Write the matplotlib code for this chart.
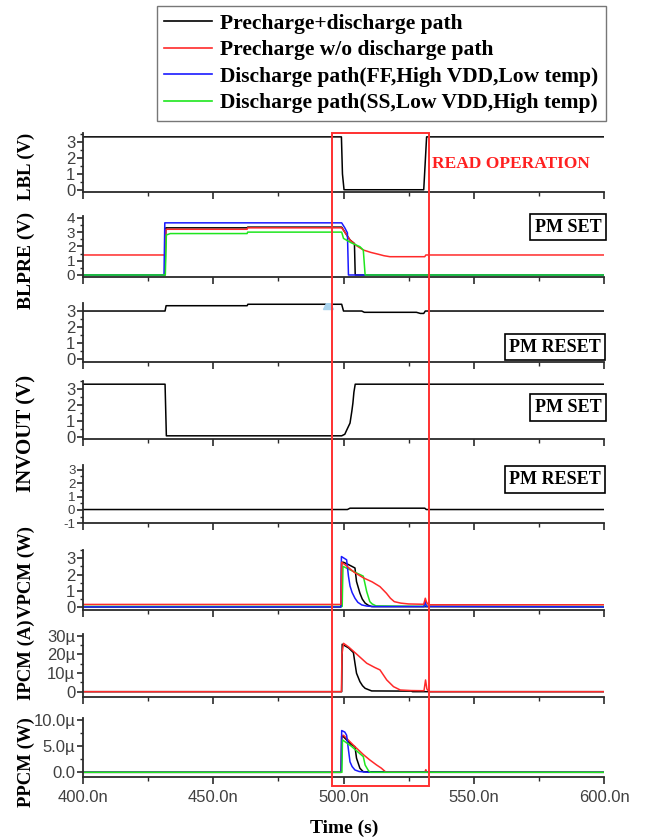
import matplotlib
matplotlib.use("Agg")
import matplotlib.pyplot as plt
from matplotlib.ticker import MultipleLocator, FuncFormatter
from matplotlib.patches import Rectangle
from matplotlib.lines import Line2D

# ---- data (time in ns) ----
series_names = ["Precharge+discharge path",
                "Precharge w/o discharge path",
                "Discharge path(FF,High VDD,Low temp)",
                "Discharge path(SS,Low VDD,High temp)"]
series_colors = ["black", "#ff2a2a", "#1a1aff", "#1ee61e"]

lbl_t = [400, 499.2, 499.6, 500.2, 530.8, 531.3, 531.9, 600]
lbl_v = [3.3, 3.3, 1.0, 0.02, 0.02, 1.5, 3.3, 3.3]

# BLPRE, PM SET case
blpre_set_black_t = [400, 431.5, 431.8, 463, 463.2, 499.3, 500.5, 502.5, 504.2, 504.5, 600]
blpre_set_black_v = [0, 0, 3.3, 3.3, 3.35, 3.35, 3.0, 2.45, 2.2, 0, 0]
blpre_set_red_t = [400, 431.5, 431.8, 463, 463.2, 499.3, 500.5, 502.5, 505, 507.6, 510.5, 513.4, 515.5, 517.8, 531.2, 531.6, 600]
blpre_set_red_v = [1.4, 1.4, 3.2, 3.2, 3.3, 3.3, 3.0, 2.45, 2.05, 1.75, 1.58, 1.45, 1.35, 1.28, 1.28, 1.4, 1.4]
blpre_set_blue_t = [400, 431.1, 431.4, 499.3, 500.5, 501.5, 501.9, 600]
blpre_set_blue_v = [0, 0, 3.65, 3.65, 3.3, 2.95, 0, 0]
blpre_set_green_t = [400, 431.6, 432.0, 433.5, 463, 463.2, 499.3, 500.0, 503, 506.3, 507.6, 508.3, 600]
blpre_set_green_v = [0, 0, 2.8, 2.9, 2.9, 3.0, 3.0, 2.56, 2.25, 1.98, 1.75, 0, 0]

# BLPRE, PM RESET case
blpre_reset_t = [400, 431.5, 431.9, 463, 463.3, 499.3, 500.0, 507, 508, 528, 529.5, 530.8, 531.4, 600]
blpre_reset_v = [3.0, 3.0, 3.33, 3.33, 3.42, 3.42, 3.0, 3.0, 2.92, 2.92, 2.85, 2.85, 3.0, 3.0]
cursor_t = [494]
cursor_v = [3.42]

# INVOUT, PM SET case
invout_set_t = [400, 431.5, 432.0, 499.3, 500.5, 501.2, 502.5, 503.2, 503.6, 504.0, 504.5, 600]
invout_set_v = [3.3, 3.3, 0.05, 0.05, 0.15, 0.4, 0.85, 1.6, 2.1, 2.8, 3.3, 3.3]

# INVOUT, PM RESET case
invout_reset_t = [400, 501.5, 502.5, 531.2, 531.8, 600]
invout_reset_v = [0.03, 0.03, 0.13, 0.13, 0.03, 0.03]

# VPCM (V)
vpcm_black_t = [400, 499.0, 499.3, 500, 502, 504.4, 505, 506.3, 507.2, 508.3, 509.5, 510.8, 600]
vpcm_black_v = [0.02, 0.02, 2.75, 2.75, 2.6, 2.4, 1.57, 0.86, 0.5, 0.25, 0.12, 0.04, 0.02]
vpcm_red_t = [400, 499.0, 499.3, 501, 504, 507.6, 511, 514, 516.5, 518, 519.5, 522, 525, 530.8, 531.4, 531.9, 532.6, 600]
vpcm_red_v = [0.17, 0.17, 2.75, 2.55, 2.15, 1.8, 1.55, 1.26, 0.85, 0.55, 0.34, 0.25, 0.2, 0.18, 0.55, 0.3, 0.15, 0.15]
vpcm_blue_t = [400, 499.0, 499.2, 501.2, 501.9, 502.5, 503.3, 504.4, 505.5, 507, 509, 511.5, 530.9, 531.3, 531.8, 600]
vpcm_blue_v = [0.02, 0.02, 3.1, 2.9, 1.9, 1.3, 0.9, 0.55, 0.3, 0.14, 0.07, 0.04, 0.04, 0.4, 0.05, 0.02]
vpcm_green_t = [400, 499.5, 499.8, 503, 507.6, 508.3, 508.9, 510.1, 511, 512.5, 530.9, 531.3, 531.8, 600]
vpcm_green_v = [0.05, 0.05, 2.5, 2.25, 1.9, 1.4, 0.96, 0.34, 0.2, 0.08, 0.05, 0.3, 0.06, 0.05]

# IPCM (uA)
ipcm_black_t = [400, 499.3, 499.5, 502, 503.8, 504.4, 505, 506.3, 507.3, 508.3, 510.8, 526, 526.5, 600]
ipcm_black_v = [0, 0, 25.5, 23.5, 21.0, 15.3, 9.9, 5.4, 3.2, 1.8, 0.4, 0.3, 0, 0]
ipcm_red_t = [400, 499.2, 499.4, 500, 502, 504.4, 508.9, 512, 514, 516.6, 519.2, 521.8, 526, 530.9, 531.5, 532.0, 532.8, 600]
ipcm_red_v = [0, 0, 20, 26, 24, 21, 15.3, 13, 11.7, 6.3, 2.7, 0.9, 0.6, 0.5, 6.3, 1.5, 0, 0]

# PPCM (uW)
ppcm_black_t = [400, 499.1, 499.3, 500, 503, 504.4, 505, 506.3, 507.6, 600]
ppcm_black_v = [0, 0, 6.9, 6.8, 5.3, 4.9, 2.7, 0.77, 0.1, 0]
ppcm_red_t = [400, 499.1, 499.3, 500, 504, 507.6, 510, 512.7, 514.5, 516.1, 531.2, 531.6, 532.0, 600]
ppcm_red_v = [0, 0, 7.0, 7.1, 5.1, 3.4, 2.4, 1.4, 0.8, 0.1, 0, 0.5, 0, 0]
ppcm_blue_t = [400, 499.1, 499.3, 500.5, 501.2, 501.9, 502.5, 503.3, 504.4, 506, 509.5, 600]
ppcm_blue_v = [0, 0, 8.0, 7.7, 7.1, 4.3, 2.0, 1.1, 0.44, 0.15, 0, 0]
ppcm_green_t = [400, 499.4, 499.6, 503, 507.6, 508.3, 509.0, 509.6, 510.3, 600]
ppcm_green_v = [0, 0, 6.2, 5.0, 3.0, 1.4, 0.8, 0.3, 0, 0]

x_ticks = [400, 450, 500, 550, 600]
read_window = (495.7, 532.9)

# ---- layout (pixel rows of each panel: top, bottom) ----
W, H = 645, 839
px_left, px_right = 83, 604
rows = [(133, 192), (215.7, 276.7), (303.3, 361.7), (380.7, 439),
        (465, 523.3), (550, 610), (634, 696.7), (718, 777.3)]
ylims = [(-0.12, 3.54), (-0.12, 4.15), (-0.15, 3.48), (-0.15, 3.52),
         (-1.0, 3.36), (-0.17, 3.5), (-2.7, 31.0), (-0.96, 10.4)]

plt.rcParams['font.family'] = 'Liberation Sans'
plt.rcParams['axes.unicode_minus'] = False
serif = 'Liberation Serif'
axis_col = '#2a2a2a'
tick_col = '#404040'

fig = plt.figure(figsize=(W / 100, H / 100), dpi=100)
axes = []
for (top, bot), yl in zip(rows, ylims):
    ax = fig.add_axes([px_left / W, 1 - bot / H, (px_right - px_left) / W, (bot - top) / H])
    ax.set_xlim(400, 600)
    ax.set_ylim(*yl)
    ax.patch.set_alpha(0)
    for s in ['top', 'right']:
        ax.spines[s].set_visible(False)
    for s in ['left', 'bottom']:
        ax.spines[s].set_color(axis_col)
        ax.spines[s].set_linewidth(1.3)
    ax.set_xticks(x_ticks)
    ax.xaxis.set_minor_locator(MultipleLocator(25))
    ax.tick_params(axis='both', which='major', direction='out', length=5, width=1.2,
                   color=axis_col, labelsize=12, labelcolor=tick_col, pad=1.5)
    ax.tick_params(axis='both', which='minor', direction='out', length=3, width=1.0, color=axis_col)
    ax.tick_params(axis='y', which='major', length=4)
    ax.tick_params(axis='y', which='minor', length=2.5)
    ax.tick_params(axis='x', labelbottom=False)
    axes.append(ax)

ax1, ax2, ax3, ax4, ax5, ax6, ax7, ax8 = axes
lw = 1.1
c_k, c_r, c_b, c_g = series_colors

ax1.plot(lbl_t, lbl_v, color=c_k, lw=lw)

ax2.plot(blpre_set_black_t, blpre_set_black_v, color=c_k, lw=lw)
ax2.plot(blpre_set_red_t, blpre_set_red_v, color=c_r, lw=lw)
ax2.plot(blpre_set_blue_t, blpre_set_blue_v, color=c_b, lw=lw)
ax2.plot(blpre_set_green_t, blpre_set_green_v, color=c_g, lw=lw)

ax3.plot(blpre_reset_t, blpre_reset_v, color=c_k, lw=lw)
ax3.plot(cursor_t, cursor_v, marker='^', ms=7, color='#a9d3ee', ls='none')

ax4.plot(invout_set_t, invout_set_v, color=c_k, lw=lw)
ax5.plot(invout_reset_t, invout_reset_v, color=c_k, lw=lw)

ax6.plot(vpcm_black_t, vpcm_black_v, color=c_k, lw=lw)
ax6.plot(vpcm_green_t, vpcm_green_v, color=c_g, lw=lw)
ax6.plot(vpcm_blue_t, vpcm_blue_v, color=c_b, lw=lw)
ax6.plot(vpcm_red_t, vpcm_red_v, color=c_r, lw=lw)

ax7.plot(ipcm_black_t, ipcm_black_v, color=c_k, lw=lw)
ax7.plot(ipcm_red_t, ipcm_red_v, color=c_r, lw=lw)

ax8.plot(ppcm_black_t, ppcm_black_v, color=c_k, lw=lw)
ax8.plot(ppcm_red_t, ppcm_red_v, color=c_r, lw=lw)
ax8.plot(ppcm_blue_t, ppcm_blue_v, color=c_b, lw=lw)
ax8.plot(ppcm_green_t, ppcm_green_v, color=c_g, lw=lw)

# y ticks
for ax in [ax1, ax3, ax4, ax6]:
    ax.set_yticks([0, 1, 2, 3])
    ax.yaxis.set_minor_locator(MultipleLocator(0.5))
ax2.set_yticks([0, 1, 2, 3, 4])
ax2.yaxis.set_minor_locator(MultipleLocator(0.5))
ax2.tick_params(axis='y', labelsize=11)
ax5.set_yticks([-1, 0, 1, 2, 3])
ax5.yaxis.set_minor_locator(MultipleLocator(0.5))
ax5.tick_params(axis='y', labelsize=9.5)
ax7.set_yticks([0, 10, 20, 30])
ax7.yaxis.set_minor_locator(MultipleLocator(5))
ax7.yaxis.set_major_formatter(FuncFormatter(lambda v, p: '0' if v == 0 else f'{v:.0f}\u00b5'))
ax8.set_yticks([0, 5, 10])
ax8.yaxis.set_minor_locator(MultipleLocator(2.5))
ax8.yaxis.set_major_formatter(FuncFormatter(lambda v, p: '0.0' if v == 0 else f'{v:.1f}\u00b5'))

ax8.tick_params(axis='x', labelbottom=True, pad=4)
ax8.xaxis.set_major_formatter(FuncFormatter(lambda v, p: f'{v:.1f}n'))

# y labels
ylab = [("LBL (V)", 166, 13.5), ("BLPRE (V)", 260, 14), ("INVOUT (V)", 433, 15),
        ("VPCM (W)", 572, 13.5), ("IPCM (A)", 660, 13.5), ("PPCM (W)", 762, 13.5)]
for txt, yc, fs in ylab:
    fig.text(26 / W, 1 - yc / H, txt, rotation=90, ha='center', va='center',
             family=serif, weight='bold', fontsize=fs)

fig.text(344 / W, 1 - 828 / H, "Time (s)", ha='center', va='center',
         family=serif, weight='bold', fontsize=14)

# state boxes
boxes = [("PM SET", 568, 227), ("PM RESET", 555, 347),
         ("PM SET", 568, 407.5), ("PM RESET", 555, 479.5)]
for txt, xc, yc in boxes:
    fig.text(xc / W, 1 - yc / H, txt, ha='center', va='center', family=serif,
             weight='bold', fontsize=13,
             bbox=dict(boxstyle='square,pad=0.25', fc='white', ec='black', lw=1.2))

fig.text(432 / W, 1 - 164.5 / H, "READ OPERATION", ha='left', va='center',
         family=serif, weight='bold', fontsize=12.5, color='#ff2020')

# read-operation window spanning all panels
to_fig = fig.transFigure.inverted()
x0 = to_fig.transform(ax8.transData.transform((read_window[0], 0)))[0]
x1 = to_fig.transform(ax8.transData.transform((read_window[1], 0)))[0]
y_top = ax1.get_position().y1
y_bot = ax8.get_position().y0 - 8.4 / H
fig.patches.append(Rectangle((x0, y_bot), x1 - x0, y_top - y_bot, transform=fig.transFigure,
                             fill=False, ec='#ff3030', lw=1.4, zorder=10))

# legend
handles = [Line2D([], [], color=c, lw=1.2) for c in series_colors]
leg = fig.legend(handles, series_names, loc='upper right',
                 bbox_to_anchor=(606 / W, 1 - 6 / H), frameon=True, fancybox=False,
                 prop=dict(family=serif, weight='bold', size=15.5),
                 handlelength=2.2, handletextpad=0.4, labelspacing=0.3,
                 borderpad=0.35, borderaxespad=0)
leg.get_frame().set_edgecolor('#555555')
leg.get_frame().set_linewidth(1.0)

fig.savefig("out.png", dpi=100)
